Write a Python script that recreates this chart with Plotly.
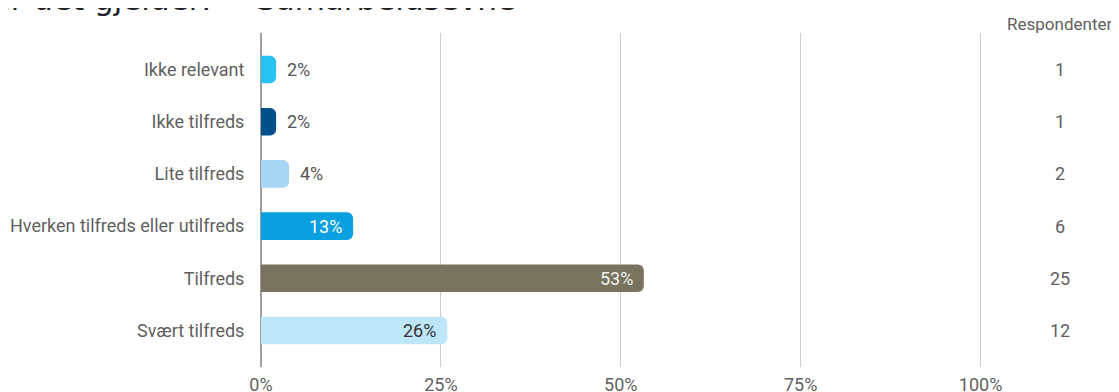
import plotly.graph_objects as go

categories = ["Ikke relevant", "Ikke tilfreds", "Lite tilfreds",
              "Hverken tilfreds eller utilfreds", "Tilfreds", "Svært tilfreds"]
percent = [2.1, 2.1, 3.9, 12.8, 53.2, 25.9]
pct_labels = ["2%", "2%", "4%", "13%", "53%", "26%"]
respondents = [1, 1, 2, 6, 25, 12]
bar_colors = ["#27c3f3", "#00508a", "#a9d5f5", "#0aa0e0", "#77735f", "#bde6f9"]
label_inside = [False, False, False, True, True, True]
label_colors = ["#555555", "#555555", "#555555", "#ffffff", "#f0f0ea", "#333333"]
x_ticks = [0, 25, 50, 75, 100]
x_ticktext = ["0%", "25%", "50%", "75%", "100%"]
title_left = "når det gjelder:"
title_right = "Samarbeidsevne"
resp_header = "Respondenter"

# page body has an 8px margin, so the figure is offset by 8px in the window
OFF = 8
W, H = 1119 - OFF, 392 - OFF
L = 261 - OFF
T = 33 - OFF
R = W - (982 - OFF)
B = H - (367 - OFF)
PW = W - L - R
PH = H - T - B

def px_x(p):  # window pixel -> paper
    return (p - OFF - L) / PW

def px_y(p):
    return (H - B - (p - OFF)) / PH

font = "Roboto, Arial, sans-serif"
grey = "#5f5f5f"

fig = go.Figure()
fig.add_trace(go.Bar(
    x=percent, y=categories, orientation="h",
    marker=dict(color=bar_colors, line=dict(width=0), cornerradius=6),
    width=0.53, hoverinfo="skip",
))

ann = []
for c, v, t, inside, col in zip(categories, percent, pct_labels, label_inside, label_colors):
    ann.append(dict(
        x=v, y=c, xref="x", yref="y", text=t, showarrow=False,
        xanchor="right" if inside else "left",
        xshift=-9 if inside else 9,
        font=dict(family=font, size=18, color=col),
    ))
for c, n in zip(categories, respondents):
    ann.append(dict(
        x=px_x(1060), y=c, xref="paper", yref="y", text=str(n), showarrow=False,
        xanchor="center", font=dict(family=font, size=18, color=grey),
    ))
ann.append(dict(
    x=px_x(1059), y=px_y(24), xref="paper", yref="paper", text=resp_header,
    showarrow=False, xanchor="center", yanchor="middle",
    font=dict(family=font, size=17, color=grey),
))
ann.append(dict(
    x=px_x(213), y=px_y(-1), xref="paper", yref="paper", text=title_left,
    showarrow=False, xanchor="right", yanchor="middle",
    font=dict(family="DejaVu Sans", size=31, color="#222222"),
))
ann.append(dict(
    x=px_x(254), y=px_y(-1), xref="paper", yref="paper", text=title_right,
    showarrow=False, xanchor="left", yanchor="middle",
    font=dict(family="DejaVu Sans", size=31, color="#222222"),
))

fig.update_layout(
    width=W, height=H,
    margin=dict(l=L, r=R, t=T, b=B, pad=0, autoexpand=False),
    plot_bgcolor="white", paper_bgcolor="white",
    showlegend=False,
    annotations=ann,
    xaxis=dict(
        range=[0, 100.2], tickvals=x_ticks, ticktext=x_ticktext,
        showgrid=True, gridcolor="#cccccc", gridwidth=1,
        zeroline=True, zerolinecolor="#9e9e9e", zerolinewidth=2,
        ticks="outside", ticklen=1, tickcolor="rgba(0,0,0,0)",
        tickfont=dict(family=font, size=18, color=grey),
        showline=False, fixedrange=True, automargin=False,
    ),
    yaxis=dict(
        type="category", categoryorder="array", categoryarray=categories,
        range=[5.7, -0.7], showgrid=False, zeroline=False, showline=False,
        ticks="outside", ticklen=12, tickcolor="rgba(0,0,0,0)",
        tickfont=dict(family=font, size=18, color=grey), fixedrange=True,
        automargin=False,
    ),
)

fig.write_html("out.html")
